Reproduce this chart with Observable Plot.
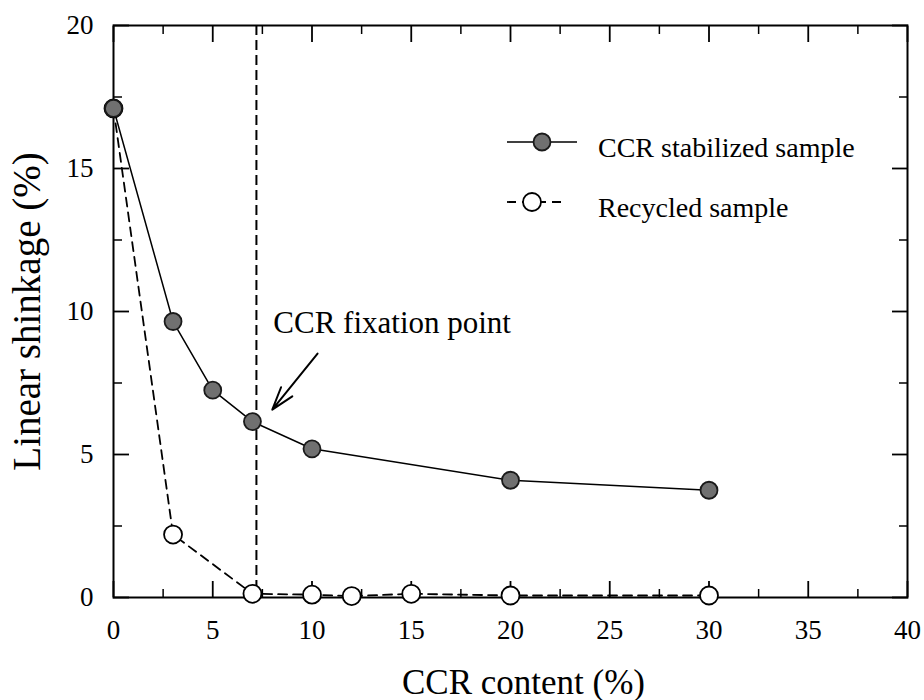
<!DOCTYPE html>
<html>
<head>
<meta charset="utf-8">
<script src="https://cdn.jsdelivr.net/npm/d3@7"></script>
<script src="https://cdn.jsdelivr.net/npm/@observablehq/plot@0.6"></script>
<style>
  html, body { margin: 0; padding: 0; background: #fff; }
  #wrap { position: relative; width: 924px; height: 700px; overflow: hidden; }
  #wrap svg.legend { position: absolute; left: 0; top: 0; }
</style>
</head>
<body>
<div id="wrap"></div>
<script>
// ---- data ----
const ccrContent      = [0, 3, 5, 7, 10, 20, 30];
const stabilizedShrink = [17.1, 9.65, 7.25, 6.15, 5.2, 4.1, 3.75];

const recycledContent = [0, 3, 7, 10, 12, 15, 20, 30];
const recycledShrink  = [17.1, 2.2, 0.13, 0.1, 0.05, 0.13, 0.07, 0.07];

const fixationContent = [7.2];

const xMajorTicks = [0, 5, 10, 15, 20, 25, 30, 35, 40];
const xMinorTicks = [2.5, 7.5, 12.5, 17.5, 22.5, 27.5, 32.5, 37.5];
const yMajorTicks = [0, 5, 10, 15, 20];
const yMinorTicks = [2.5, 7.5, 12.5, 17.5];

const seriesNames = ["CCR stabilized sample", "Recycled sample"];
const xTitle = "CCR content (%)";
const yTitle = "Linear shinkage (%)";
const annotationText = ["CCR fixation point"];
const annotationAt = [{x: 8.05, y: 9.25}];
const arrowSpec = [{x1: 10.28, y1: 8.53, x2: 8.0, y2: 6.57}];

// ---- tables ----
const stabilized = ccrContent.map((x, i) => ({x, y: stabilizedShrink[i]}));
const recycled = recycledContent.map((x, i) => ({x, y: recycledShrink[i]}));

const FONT = "'Liberation Serif', 'Times New Roman', Times, serif";
const tickFont = 27;
const filledFill = "#707070", filledStroke = "#1a1a1a";

const chart = Plot.plot({
  width: 924,
  height: 700,
  marginLeft: 113,
  marginRight: 17,
  marginTop: 25,
  marginBottom: 103,
  style: {fontFamily: FONT, color: "#000", background: "#fff", overflow: "visible"},
  x: {domain: [0, 40], label: null},
  y: {domain: [0, 20], label: null},
  marks: [
    // tick labels
    Plot.axisX({anchor: "bottom", ticks: xMajorTicks, tickSize: 0, tickPadding: 22, fontSize: tickFont, fontFamily: FONT, label: null, tickFormat: d => String(d)}),
    Plot.axisY({anchor: "left", ticks: yMajorTicks, tickSize: 0, tickPadding: 20, fontSize: tickFont, fontFamily: FONT, label: null, tickFormat: d => String(d)}),
    // inward ticks (major / minor) on all four sides
    Plot.axisX({anchor: "bottom", ticks: xMajorTicks, tickSize: -16, fill: "none", strokeWidth: 1.8, label: null}),
    Plot.axisX({anchor: "bottom", ticks: xMinorTicks, tickSize: -8, fill: "none", strokeWidth: 1.5, label: null}),
    Plot.axisX({anchor: "top", ticks: xMajorTicks, tickSize: -16, fill: "none", strokeWidth: 1.8, label: null}),
    Plot.axisX({anchor: "top", ticks: xMinorTicks, tickSize: -8, fill: "none", strokeWidth: 1.5, label: null}),
    Plot.axisY({anchor: "left", ticks: yMajorTicks, tickSize: -16, fill: "none", strokeWidth: 1.8, label: null}),
    Plot.axisY({anchor: "left", ticks: yMinorTicks, tickSize: -9, fill: "none", strokeWidth: 1.5, label: null}),
    Plot.axisY({anchor: "right", ticks: yMajorTicks, tickSize: -16, fill: "none", strokeWidth: 1.8, label: null}),
    Plot.axisY({anchor: "right", ticks: yMinorTicks, tickSize: -9, fill: "none", strokeWidth: 1.5, label: null}),
    Plot.frame({stroke: "#000", strokeWidth: 2}),
    // axis titles
    Plot.text([xTitle], {frameAnchor: "bottom", text: d => d, textAnchor: "middle", dx: 13, dy: 96, lineAnchor: "bottom", fontSize: 35, fontFamily: FONT, fill: "#000"}),
    Plot.text([yTitle], {frameAnchor: "left", text: d => d, textAnchor: "middle", rotate: -90, dx: -74, lineAnchor: "bottom", fontSize: 39, fontFamily: FONT, fill: "#000"}),
    // fixation line
    Plot.ruleX(fixationContent, {stroke: "#000", strokeWidth: 2, strokeDasharray: "10,5"}),
    // series lines
    Plot.line(recycled, {x: "x", y: "y", stroke: "#000", strokeWidth: 1.8, strokeDasharray: "9,6"}),
    Plot.line(stabilized, {x: "x", y: "y", stroke: "#000", strokeWidth: 1.5}),
    // markers
    Plot.dot(recycled, {x: "x", y: "y", r: 9, fill: "#fff", stroke: "#000", strokeWidth: 1.8}),
    Plot.dot(stabilized, {x: "x", y: "y", r: 8.5, fill: filledFill, stroke: filledStroke, strokeWidth: 1.8}),
    // annotation
    Plot.arrow(arrowSpec, {x1: "x1", y1: "y1", x2: "x2", y2: "y2", stroke: "#000", strokeWidth: 2, headLength: 20, headAngle: 35}),
    Plot.text(annotationAt, {x: "x", y: "y", text: (d, i) => annotationText[i], textAnchor: "start", lineAnchor: "bottom", fontSize: 31, fontFamily: FONT, fill: "#000"})
  ]
});

const wrap = document.getElementById("wrap");
wrap.appendChild(chart);

// ---- legend (inside the plot area, upper right) ----
const leg = d3.select(wrap).append("svg")
  .attr("class", "legend")
  .attr("width", 924).attr("height", 700)
  .style("font-family", FONT);

const rows = [
  {name: seriesNames[0], y: 142, dash: null, fill: filledFill, stroke: filledStroke, r: 8.5, x1: 507, x2: 577, cx: 542},
  {name: seriesNames[1], y: 202, dash: "9,6", fill: "#fff", stroke: "#000", r: 9, x1: 507, x2: 567, cx: 532}
];
rows.forEach(row => {
  leg.append("line")
    .attr("x1", row.x1).attr("x2", row.x2).attr("y1", row.y).attr("y2", row.y)
    .attr("stroke", "#000").attr("stroke-width", row.dash ? 1.8 : 1.5)
    .attr("stroke-dasharray", row.dash);
  leg.append("circle")
    .attr("cx", row.cx).attr("cy", row.y).attr("r", row.r)
    .attr("fill", row.fill).attr("stroke", row.stroke).attr("stroke-width", 1.8);
  leg.append("text")
    .attr("x", 598).attr("y", row.y + 15)
    .attr("font-size", 28).attr("font-family", FONT).attr("fill", "#000")
    .text(row.name);
});
</script>
</body>
</html>
